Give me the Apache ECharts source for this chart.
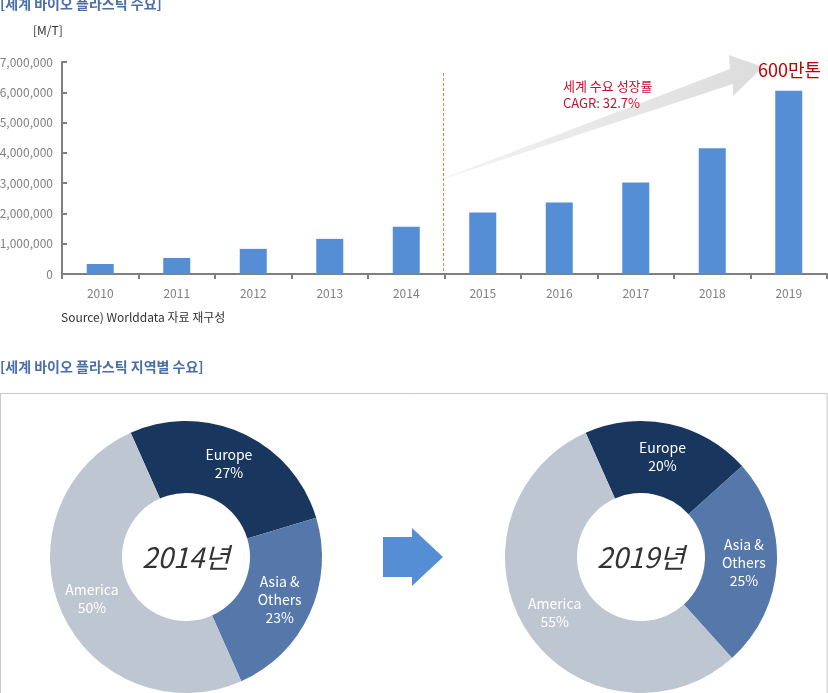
<!DOCTYPE html>
<html>
<head>
<meta charset="utf-8">
<script src="https://cdn.jsdelivr.net/npm/echarts@6/dist/echarts.min.js"></script>
<style>
html,body{margin:0;padding:0;background:#fff;}
#chart{width:828px;height:693px;}
</style>
</head>
<body>
<div id="chart"></div>
<script>
// ---- data ----
const years = ['2010', '2011', '2012', '2013', '2014', '2015', '2016', '2017', '2018', '2019'];
const demand = [330000, 530000, 830000, 1160000, 1560000, 2030000, 2360000, 3020000, 4150000, 6050000];
const regionNames = ['Europe', 'Asia &\nOthers', 'America'];
const share2014 = [27, 23, 50];
const share2019 = [20, 25, 55];
const regionColors = ['#19365e', '#5577aa', '#bec6d1'];

const FONT = '"Noto Sans CJK KR", "Noto Sans", sans-serif';

function pieData(values) {
  return regionNames.map((n, i) => ({ name: n, value: values[i], itemStyle: { color: regionColors[i] } }));
}

function pieSeries(center, values) {
  return {
    type: 'pie',
    center: center,
    radius: [64, 136],
    startAngle: 114,
    clockwise: true,
    silent: true,
    avoidLabelOverlap: false,
    itemStyle: { borderWidth: 0 },
    label: {
      show: true,
      position: 'inside',
      formatter: '{b}\n{c}%',
      color: '#ffffff',
      fontSize: 14,
      lineHeight: 18,
      fontFamily: FONT,
      align: 'center'
    },
    labelLine: { show: false },
    emphasis: { disabled: true },
    data: pieData(values)
  };
}

const chart = echarts.init(document.getElementById('chart'), null, { renderer: 'canvas' });
chart.setOption({
  animation: false,
  textStyle: { fontFamily: FONT },
  grid: { left: 62, right: 1, top: 62, bottom: 419, containLabel: false, outerBoundsMode: 'none' },
  xAxis: {
    type: 'category',
    data: years,
    boundaryGap: true,
    axisLine: { lineStyle: { color: '#7f7f7f', width: 2 } },
    axisTick: { show: true, length: 5, inside: false, lineStyle: { color: '#7f7f7f', width: 2 } },
    axisLabel: { color: '#808080', fontSize: 12, margin: 13, fontFamily: FONT },
    splitLine: { show: false }
  },
  yAxis: {
    type: 'value',
    min: 0,
    max: 7000000,
    interval: 1000000,
    axisLine: { show: true, lineStyle: { color: '#7f7f7f', width: 2 } },
    axisTick: { show: true, inside: true, length: 5, lineStyle: { color: '#7f7f7f', width: 2 } },
    axisLabel: {
      color: '#808080', fontSize: 12, margin: 9, fontFamily: FONT,
      formatter: v => v.toLocaleString('en-US')
    },
    splitLine: { show: false }
  },
  series: [
    {
      type: 'bar',
      data: demand,
      barWidth: 27,
      silent: true,
      itemStyle: { color: '#558ed5' }
    },
    pieSeries([186, 557], share2014),
    pieSeries([641, 557], share2019)
  ],
  graphic: [
    { type: 'text', left: 0, top: -3, style: { text: '[세계 바이오 플라스틱 수요]', fill: '#4a6ea8', font: 'bold 14px ' + FONT } },
    { type: 'text', left: 33, top: 24, style: { text: '[M/T]', fill: '#333333', font: '12px ' + FONT } },
    { type: 'text', left: 61, top: 311, style: { text: 'Source) Worlddata 자료 재구성', fill: '#333333', font: '12px ' + FONT } },
    { type: 'line', silent: true, shape: { x1: 443.5, y1: 73, x2: 443.5, y2: 273 }, style: { stroke: '#e0893a', lineWidth: 1, lineDash: [3, 2] } },
    {
      type: 'polygon', silent: true, z: -1,
      shape: { points: [[428, 184], [730, 69], [729, 55], [763, 67], [733, 96], [733, 84]] },
      style: {
        fill: new echarts.graphic.LinearGradient(0, 0, 1, 0, [
          { offset: 0, color: '#f4f4f4' },
          { offset: 1, color: '#dcdcdc' }
        ])
      }
    },
    { type: 'text', left: 563, top: 78, style: { text: '세계 수요 성장률\nCAGR: 32.7%', fill: '#c8102e', font: '13px ' + FONT, lineHeight: 17 } },
    { type: 'text', left: 758, top: 61, style: { text: '600만톤', fill: '#c00000', font: '18px ' + FONT } },
    { type: 'text', left: 0, top: 360, style: { text: '[세계 바이오 플라스틱 지역별 수요]', fill: '#4a6ea8', font: 'bold 14px ' + FONT } },
    { type: 'rect', silent: true, z: -2, shape: { x: 0.5, y: 393.5, width: 826.5, height: 320 }, style: { fill: '#ffffff', stroke: '#c8c8c8', lineWidth: 1 } },
    {
      type: 'polygon', silent: true,
      shape: { points: [[383, 537], [412, 537], [412, 528], [443, 557], [412, 586], [412, 577], [383, 577]] },
      style: { fill: '#558ed5' }
    },
    { type: 'text', x: 186, y: 557, z: 10, style: { text: '2014년', fill: '#333333', font: 'italic 28px ' + FONT, textAlign: 'center', textVerticalAlign: 'middle' } },
    { type: 'text', x: 641, y: 557, z: 10, style: { text: '2019년', fill: '#333333', font: 'italic 28px ' + FONT, textAlign: 'center', textVerticalAlign: 'middle' } }
  ]
});
</script>
</body>
</html>
